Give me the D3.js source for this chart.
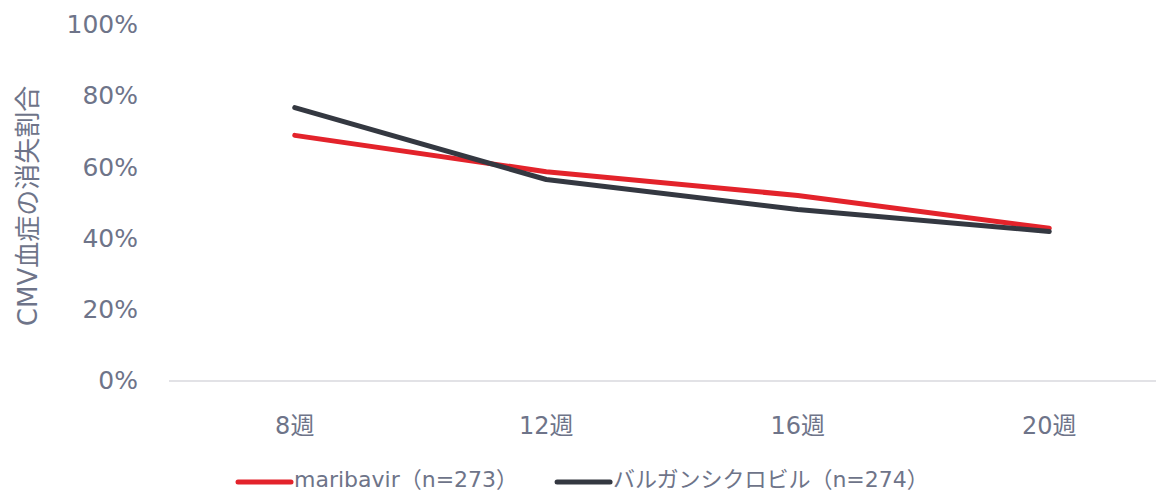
<!DOCTYPE html>
<html lang="ja">
  <head>
    <meta charset="utf-8">
    <title>CMV血症の消失割合</title>
    <script src="https://cdn.jsdelivr.net/npm/d3@7"></script>
    <style>
      body { margin: 0; background: #fff; }
      text { font-family: "DejaVu Sans", "Noto Sans CJK JP", sans-serif; fill: #6e7489; }
    </style>
  </head>
  <body>
    <script>
      // data
      var weeks = ["8週", "12週", "16週", "20週"];
      var maribavir = [69, 58.8, 52.1, 42.9];
      var valgan = [76.8, 56.6, 48.2, 42.0];
      var yTicks = [0, 20, 40, 60, 80, 100];
      var seriesNames = ["maribavir（n=273）", "バルガンシクロビル（n=274）"];
      var seriesColors = ["#e3232b", "#343841"];

      var W = 1156, H = 492;

      var svg = d3.select("body").append("svg")
                  .attr("width", W)
                  .attr("height", H);

      var x = d3.scalePoint().domain(weeks).range([169, 1175]).padding(0.5);
      var y = d3.scaleLinear().domain([0, 100]).range([381, 25]);

      // y tick labels
      svg.selectAll("text.ytick")
         .data(yTicks)
         .enter().append("text")
         .attr("class", "ytick")
         .attr("x", 138)
         .attr("y", function(d) { return y(d); })
         .attr("dy", "0.33em")
         .attr("text-anchor", "end")
         .style("font-size", "25px")
         .text(function(d) { return d + "%"; });

      // baseline
      svg.append("line")
         .attr("x1", 169).attr("x2", W)
         .attr("y1", y(0)).attr("y2", y(0))
         .attr("stroke", "#d9d9de")
         .attr("stroke-width", 1.5);

      // x labels
      svg.selectAll("text.xtick")
         .data(weeks)
         .enter().append("text")
         .attr("class", "xtick")
         .attr("x", function(d) { return x(d); })
         .attr("y", 434)
         .attr("text-anchor", "middle")
         .style("font-size", "24px")
         .text(function(d) { return d; });

      // y axis title
      svg.append("text")
         .attr("transform", "translate(37,206) rotate(-90)")
         .attr("text-anchor", "middle")
         .style("font-size", "26px")
         .text("CMV血症の消失割合");

      var line = d3.line()
                   .x(function(d, i) { return x(weeks[i]); })
                   .y(function(d) { return y(d); });

      [maribavir, valgan].forEach(function(s, k) {
        svg.append("path")
           .datum(s)
           .attr("d", line)
           .attr("fill", "none")
           .attr("stroke", seriesColors[k])
           .attr("stroke-width", 5)
           .attr("stroke-linecap", "round")
           .attr("stroke-linejoin", "round");
      });

      // legend
      var lx = 238;
      seriesNames.forEach(function(name, k) {
        var g = svg.append("g").attr("transform", "translate(" + lx + ",0)");
        g.append("line")
         .attr("x1", 0).attr("x2", 53)
         .attr("y1", 482).attr("y2", 482)
         .attr("stroke", seriesColors[k])
         .attr("stroke-width", 5)
         .attr("stroke-linecap", "round");
        var t = g.append("text")
         .attr("x", 56)
         .attr("y", 487)
         .style("font-size", "22px")
         .text(name);
        lx += 56 + t.node().getComputedTextLength() + 39;
      });
    </script>
  </body>
</html>
